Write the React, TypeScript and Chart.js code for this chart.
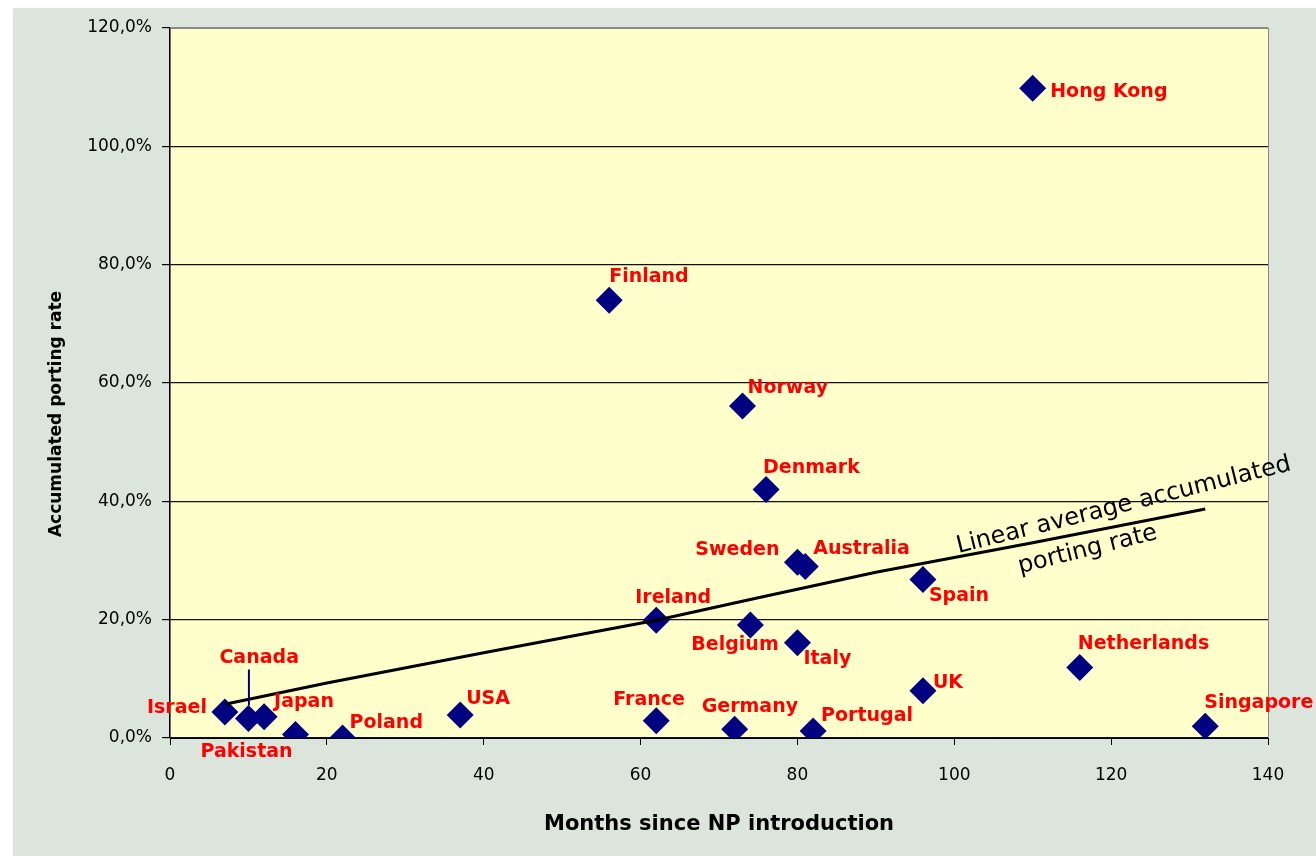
import { useEffect, useRef } from "react";
import { Chart, registerables } from "chart.js";

Chart.register(...registerables);

// ---- data ----
const countries = [
  "Israel", "Canada", "Japan", "Pakistan", "Poland", "USA", "Finland", "Ireland",
  "France", "Germany", "Norway", "Belgium", "Denmark", "Sweden", "Italy", "Australia",
  "Portugal", "Spain", "UK", "Hong Kong", "Netherlands", "Singapore",
];
const monthsSinceNP = [7, 10, 12, 16, 22, 37, 56, 62, 62, 72, 73, 74, 76, 80, 80, 81, 82, 96, 96, 110, 116, 132];
const portingRate = [4.4, 3.3, 3.6, 0.6, 0, 3.9, 74, 19.9, 2.9, 1.5, 56.1, 19.1, 42, 29.7, 16.1, 29, 1.2, 26.8, 8, 109.8, 11.9, 2];

const trendMonths = [7, 20, 40, 52, 62, 75, 90, 110, 132];
const trendRate = [5.7, 9.3, 14.4, 17.4, 19.9, 23.7, 28, 33, 38.7];

const xTitle = "Months since NP introduction";
const yTitle = "Accumulated porting rate";
const trendLabelLines = ["Linear average accumulated", "porting rate"];
// anchor of each annotation line in data units (months, %)
const trendLabelAnchors = [
  [121.6, 39.3],
  [117.0, 31.8],
];

// ---- label styling (offsets in px from the marker, alignment) ----
const labelOffsets: [number, number, CanvasTextAlign][] = [
  [-18, -3.7, "right"], // Israel
  [-29, -60, "left"], // Canada
  [10, -15, "left"], // Japan
  [-95, 18, "left"], // Pakistan
  [7, -15, "left"], // Poland
  [6, -15.5, "left"], // USA
  [0, -23, "left"], // Finland
  [-21, -22, "left"], // Ireland
  [-43, -21, "left"], // France
  [-33, -22, "left"], // Germany
  [5, -18.5, "left"], // Norway
  [-59, 20, "left"], // Belgium
  [-3, -21, "left"], // Denmark
  [-18, -12, "right"], // Sweden
  [6, 16, "left"], // Italy
  [8, -17, "left"], // Australia
  [8, -15, "left"], // Portugal
  [6, 17, "left"], // Spain
  [10, -7.5, "left"], // UK
  [17.5, 3.5, "left"], // Hong Kong
  [-2, -24, "left"], // Netherlands
  [-1, -23, "left"], // Singapore
];

const FONT = "'DejaVu Sans', sans-serif";
const W = 1316;
const H = 856;

const decorPlugin = {
  id: "decor",
  beforeDraw(chart: any) {
    const { ctx, chartArea: a } = chart;
    ctx.save();
    ctx.fillStyle = "#ffffff";
    ctx.fillRect(0, 0, W, H);
    ctx.fillStyle = "#dce5dc";
    ctx.fillRect(13, 8, W - 13, H - 8);
    ctx.fillStyle = "#ffffcc";
    ctx.fillRect(a.left, a.top, a.right - a.left, a.bottom - a.top);
    ctx.strokeStyle = "#8a8a8a";
    ctx.lineWidth = 1;
    ctx.strokeRect(a.left + 0.5, a.top + 0.5, a.right - a.left, a.bottom - a.top);
    ctx.restore();
  },
  afterDatasetsDraw(chart: any) {
    const { ctx, chartArea: a } = chart;
    const meta = chart.getDatasetMeta(1);
    ctx.save();
    // Canada leader line
    const ci = countries.indexOf("Canada");
    const cp = meta.data[ci];
    ctx.strokeStyle = "#000080";
    ctx.lineWidth = 2;
    ctx.beginPath();
    ctx.moveTo(cp.x + 0.5, cp.y - 49);
    ctx.lineTo(cp.x + 0.5, cp.y - 13);
    ctx.stroke();

    // country labels
    ctx.font = `bold 19px ${FONT}`;
    ctx.fillStyle = "#ff0000";
    ctx.textBaseline = "middle";
    countries.forEach((name, i) => {
      const p = meta.data[i];
      const [dx, dy, al] = labelOffsets[i];
      ctx.textAlign = al;
      ctx.fillText(name, p.x + dx, p.y + dy);
    });

    // trend annotation
    const xs = chart.scales.x;
    const ys = chart.scales.y;
    ctx.fillStyle = "#000000";
    ctx.font = `24px ${FONT}`;
    ctx.textAlign = "center";
    trendLabelLines.forEach((t, i) => {
      const [mx, my] = trendLabelAnchors[i];
      ctx.save();
      ctx.translate(xs.getPixelForValue(mx), ys.getPixelForValue(my));
      ctx.rotate((-14 * Math.PI) / 180);
      ctx.fillText(t, 0, 0);
      ctx.restore();
    });

    // axis titles
    ctx.font = `bold 21px ${FONT}`;
    ctx.textAlign = "center";
    ctx.fillText(xTitle, (a.left + a.right) / 2, 825);
    ctx.save();
    ctx.translate(57, 414);
    ctx.rotate(-Math.PI / 2);
    ctx.font = `bold 17px ${FONT}`;
    ctx.fillText(yTitle, 0, 0);
    ctx.restore();
    ctx.restore();
  },
};

export default function App() {
  const ref = useRef<HTMLCanvasElement | null>(null);
  useEffect(() => {
    if (!ref.current) return;
    const chart = new Chart(ref.current, {
      type: "scatter",
      data: {
        datasets: [
          {
            type: "line",
            label: "Linear average",
            data: trendMonths.map((m, i) => ({ x: m, y: trendRate[i] })),
            borderColor: "#000000",
            borderWidth: 3,
            pointRadius: 0,
            showLine: true,
            fill: false,
            tension: 0,
            order: 0,
          } as any,
          {
            label: "Countries",
            data: monthsSinceNP.map((m, i) => ({ x: m, y: portingRate[i] })),
            pointStyle: "rectRot",
            pointRadius: 13.5,
            backgroundColor: "#000080",
            borderColor: "#000080",
            borderWidth: 0,
            order: 1,
          },
        ],
      },
      options: {
        responsive: false,
        animation: false,
        events: [],
        layout: { padding: { left: 0, top: 28, right: 48, bottom: 0 } },
        plugins: { legend: { display: false }, tooltip: { enabled: false } },
        scales: {
          x: {
            type: "linear",
            min: 0,
            max: 140,
            afterFit: (s: any) => {
              s.height = 118;
            },
            ticks: {
              stepSize: 20,
              padding: 20,
              color: "#000",
              font: { family: FONT, size: 17 },
              callback: (v: any) => String(v),
            },
            grid: { drawOnChartArea: false, drawTicks: true, tickLength: 7, tickColor: "#000" },
            border: { display: true, color: "#000", width: 1 },
          },
          y: {
            type: "linear",
            min: 0,
            max: 120,
            afterFit: (s: any) => {
              s.width = 170;
            },
            ticks: {
              stepSize: 20,
              padding: 10,
              color: "#000",
              font: { family: FONT, size: 17 },
              callback: (v: any) => Number(v).toFixed(1).replace(".", ",") + "%",
            },
            grid: {
              color: (c: any) => (c.tick && c.tick.value === 120 ? "#8a8a8a" : "#111111"),
              lineWidth: 1.2,
              tickLength: 8,
              tickColor: "#000",
            },
            border: { display: true, color: "#000", width: 1.2 },
          },
        },
      },
      plugins: [decorPlugin],
    });
    return () => chart.destroy();
  }, []);
  return (
    <canvas
      ref={ref}
      width={W}
      height={H}
      style={{ position: "fixed", left: 0, top: 0, width: W, height: H, display: "block" }}
    />
  );
}
